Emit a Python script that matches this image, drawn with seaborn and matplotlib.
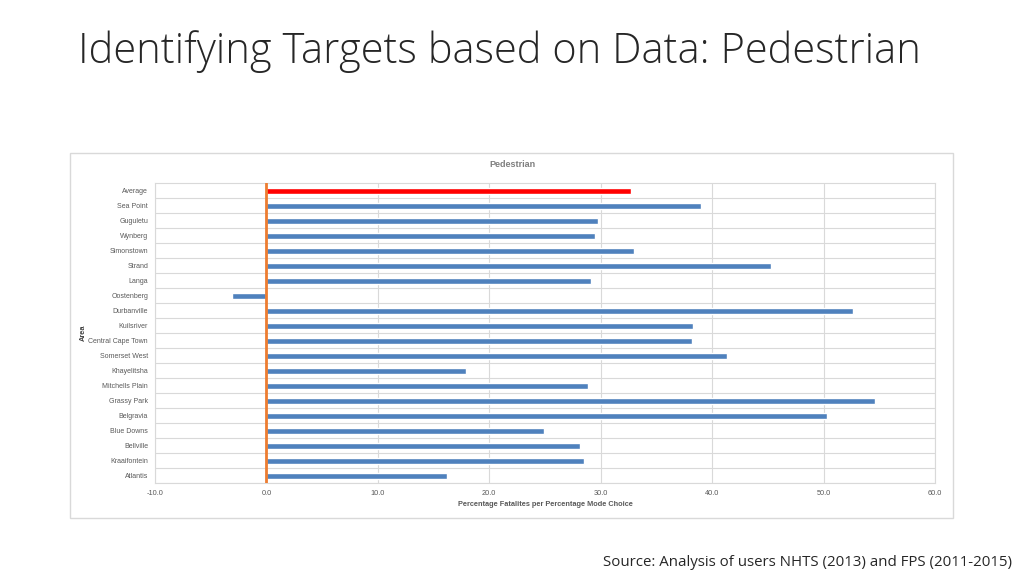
import numpy as np
import pandas as pd
import matplotlib.pyplot as plt
import seaborn as sns
from matplotlib.patches import Rectangle

# Data
areas = ["Average", "Sea Point", "Guguletu", "Wynberg", "Simonstown", "Strand", "Langa",
         "Oostenberg", "Durbanville", "Kuilsriver", "Central Cape Town", "Somerset West",
         "Khayelitsha", "Mitchells Plain", "Grassy Park", "Belgravia", "Blue Downs",
         "Bellville", "Kraaifontein", "Atlantis"]
values = [32.7, 39.0, 29.8, 29.5, 33.0, 45.3, 29.1, -3.1, 52.6, 38.3, 38.2, 41.3,
          17.9, 28.9, 54.6, 50.3, 24.9, 28.1, 28.5, 16.2]
xticks = [-10, 0, 10, 20, 30, 40, 50, 60]

df = pd.DataFrame({"Area": areas, "Value": values})
colors = ["#FF0000" if a == "Average" else "#4F81BD" for a in areas]

sns.set_style("white")
plt.rcParams['font.family'] = ['Liberation Sans', 'DejaVu Sans']

fig = plt.figure(figsize=(10.24, 5.76), dpi=100)

# outer chart box
fig.patches.append(Rectangle((70/1024, 1-518/576), 883/1024, 365/576, transform=fig.transFigure,
                             fill=False, edgecolor="#D9D9D9", lw=1))

ax = fig.add_axes([155/1024, 1-483/576, 780/1024, 300/576])
sns.barplot(data=df, x="Value", y="Area", hue="Area", palette=colors, legend=False,
            orient="h", width=0.4, saturation=1, ax=ax)

ax.set_xlim(-10, 60)
ax.set_ylim(len(areas)-0.5, -0.5)
ax.set_xticks(xticks)
ax.set_xticklabels([f"{t:.1f}" for t in xticks], fontsize=5.3, color="#595959")
ax.tick_params(axis="y", labelsize=5.0, labelcolor="#595959", length=0, pad=5)
ax.tick_params(axis="x", length=0, pad=5)

ax.set_yticks(np.arange(len(areas)) + 0.5, minor=True)
ax.grid(True, which="minor", axis="y", color="#D9D9D9", lw=0.8)
ax.grid(True, which="major", axis="x", color="#D9D9D9", lw=0.8)
ax.set_axisbelow(True)
for s in ax.spines.values():
    s.set_color("#D9D9D9")
    s.set_linewidth(0.8)

ax.axvline(0, color="#ED7D31", lw=2, zorder=3)

ax.set_xlabel("Percentage Fatalites per Percentage Mode Choice", fontsize=5.3,
              fontweight="bold", color="#595959", labelpad=3)
ax.set_ylabel("Area", fontsize=5.3, fontweight="bold", color="#404040")
ax.yaxis.set_label_coords(-0.087, 0.5)

fig.text(512/1024, 1-165/576, "Pedestrian", ha="center", va="center", fontsize=6.5,
         fontweight="bold", color="#7F7F7F")

fig.text(78/1024, 1-52/576, "Identifying Targets based on Data: Pedestrian", ha="left",
         va="center", fontsize=30, family="Open Sans", fontweight="light", color="#262626")
fig.text(1012/1024, 1-563/576, "Source: Analysis of users NHTS (2013) and FPS (2011-2015)",
         ha="right", va="center", fontsize=10.8, family="Open Sans", color="#262626")

fig.savefig("out.png", dpi=100)
